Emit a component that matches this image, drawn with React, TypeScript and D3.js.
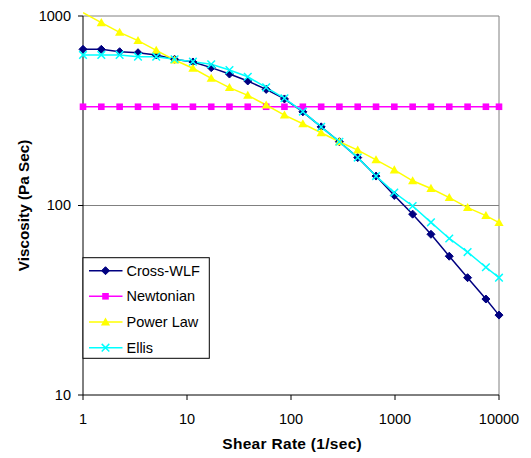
import React from "react";
import * as d3 from "d3";

// Shear rates (1/sec) at which each model was evaluated
const shearRate = [1, 1.5, 2.25, 3.38, 5.06, 7.59, 11.4, 17.1, 25.6, 38.4, 57.7, 86.5, 130, 195, 292, 438, 657, 985, 1478, 2217, 3325, 4988, 7482, 10000];

// Viscosity (Pa Sec) per model
const crossWLF = [667, 667, 648, 640, 623, 591, 572, 534, 494, 454, 410, 365, 312, 260, 217, 179, 143, 113, 90, 70.5, 54, 41.6, 32.1, 26.4];
const newtonian = [332, 332, 332, 332, 332, 332, 332, 332, 332, 332, 332, 332, 332, 332, 332, 332, 332, 332, 332, 332, 332, 332, 332, 332];
const powerLaw = [1040, 922, 820, 741, 659, 586, 530, 469, 419, 381, 339, 300, 270, 242, 217, 196, 174, 154, 135, 123, 110, 97.4, 88.4, 81.2];
const ellis = [623, 623, 623, 610, 610, 591, 574, 556, 519, 478, 420, 368, 313, 260, 217, 179, 143, 117, 99.4, 81.5, 67, 56.8, 47.2, 41.6];

const seriesNames = ["Cross-WLF", "Newtonian", "Power Law", "Ellis"];
const xTicks = [1, 10, 100, 1000, 10000];
const yTicks = [10, 100, 1000];

const W = 531;
const H = 458;
const plot = { left: 83, right: 499, top: 16, bottom: 395 };
const font = "'Liberation Sans', Arial, sans-serif";

type Marker = "diamond" | "square" | "triangle" | "cross";
const series = [
  { name: seriesNames[0], values: crossWLF, color: "#000080", marker: "diamond" as Marker },
  { name: seriesNames[1], values: newtonian, color: "#FF00FF", marker: "square" as Marker },
  { name: seriesNames[2], values: powerLaw, color: "#FFFF00", marker: "triangle" as Marker },
  { name: seriesNames[3], values: ellis, color: "#00FFFF", marker: "cross" as Marker },
];

function MarkerShape({ kind, x, y, color }: { kind: Marker; x: number; y: number; color: string }) {
  if (kind === "diamond") {
    const r = 4;
    return <path d={`M${x},${y - r}L${x + r},${y}L${x},${y + r}L${x - r},${y}Z`} fill={color} stroke={color} strokeWidth={1} />;
  }
  if (kind === "square") {
    const r = 3.3;
    return <rect x={x - r} y={y - r} width={2 * r} height={2 * r} fill={color} />;
  }
  if (kind === "triangle") {
    const r = 4.6;
    return <path d={`M${x},${y - r}L${x + r},${y + r * 0.75}L${x - r},${y + r * 0.75}Z`} fill={color} />;
  }
  const r = 3.8;
  return (
    <path d={`M${x - r},${y - r}L${x + r},${y + r}M${x - r},${y + r}L${x + r},${y - r}`} stroke={color} strokeWidth={1.5} fill="none" />
  );
}

export default function App() {
  const x = d3.scaleLog().domain([1, 10000]).range([plot.left, plot.right]);
  const y = d3.scaleLog().domain([10, 1000]).range([plot.bottom, plot.top]);

  const line = d3
    .line<number>()
    .x((_, i) => x(shearRate[i]))
    .y((v) => y(v));

  const legend = { x: 83, y: 257.7, w: 126.3, h: 100.6, rowY: [270.7, 296.3, 322, 347.7] };

  return (
    <svg width={W} height={H} style={{ position: "absolute", left: 0, top: 0, background: "#fff" }} fontFamily={font}>
      <defs>
        <clipPath id="plotClip">
          <rect x={plot.left} y={plot.top - 4} width={plot.right - plot.left + 2} height={plot.bottom - plot.top + 4} />
        </clipPath>
      </defs>

      {/* gridlines and plot frame */}
      {yTicks.filter((t) => t !== 10).map((t) => (
        <line key={t} x1={plot.left} x2={plot.right} y1={y(t)} y2={y(t)} stroke="#808080" strokeWidth={1} />
      ))}
      <line x1={plot.right} x2={plot.right} y1={plot.top} y2={plot.bottom} stroke="#808080" strokeWidth={1} />

      {/* axes */}
      <line x1={plot.left} x2={plot.left} y1={plot.top} y2={plot.bottom} stroke="#000" strokeWidth={1} />
      <line x1={plot.left} x2={plot.right} y1={plot.bottom} y2={plot.bottom} stroke="#000" strokeWidth={1} />
      {yTicks.map((t) => (
        <g key={t}>
          <line x1={plot.left - 5} x2={plot.left} y1={y(t)} y2={y(t)} stroke="#000" />
          <text x={71} y={y(t) + 4.8} textAnchor="end" fontSize={14.5}>{t}</text>
        </g>
      ))}
      {xTicks.map((t) => (
        <g key={t}>
          <line x1={x(t)} x2={x(t)} y1={plot.bottom} y2={plot.bottom + 5} stroke="#000" />
          <text x={x(t)} y={423.5} textAnchor="middle" fontSize={14.5}>{t}</text>
        </g>
      ))}

      {/* series */}
      <g clipPath="url(#plotClip)">
        {series.map((s) => (
          <path key={s.name} d={line(s.values) ?? ""} fill="none" stroke={s.color} strokeWidth={1.5} />
        ))}
      </g>
      {series.map((s) => (
        <g key={s.name + "-m"}>
          {s.values.map((v, i) =>
            v <= 1000 ? <MarkerShape key={i} kind={s.marker} x={x(shearRate[i])} y={y(v)} color={s.color} /> : null
          )}
        </g>
      ))}

      {/* legend */}
      <rect x={legend.x} y={legend.y} width={legend.w} height={legend.h} fill="#fff" stroke="#000" strokeWidth={1} />
      {series.map((s, i) => (
        <g key={s.name + "-l"}>
          <line x1={89} x2={122.5} y1={legend.rowY[i]} y2={legend.rowY[i]} stroke={s.color} strokeWidth={1.5} />
          <MarkerShape kind={s.marker} x={105.5} y={legend.rowY[i]} color={s.color} />
          <text x={126.5} y={legend.rowY[i] + 5} fontSize={14.5}>{s.name}</text>
        </g>
      ))}

      {/* axis titles */}
      <text x={292.2} y={449} textAnchor="middle" fontSize={15.5} fontWeight="bold" letterSpacing={0.3}>Shear Rate (1/sec)</text>
      <text transform={`translate(28.8, ${(plot.top + plot.bottom) / 2}) rotate(-90)`} textAnchor="middle" fontSize={15.3} fontWeight="bold">Viscosity (Pa Sec)</text>
    </svg>
  );
}
